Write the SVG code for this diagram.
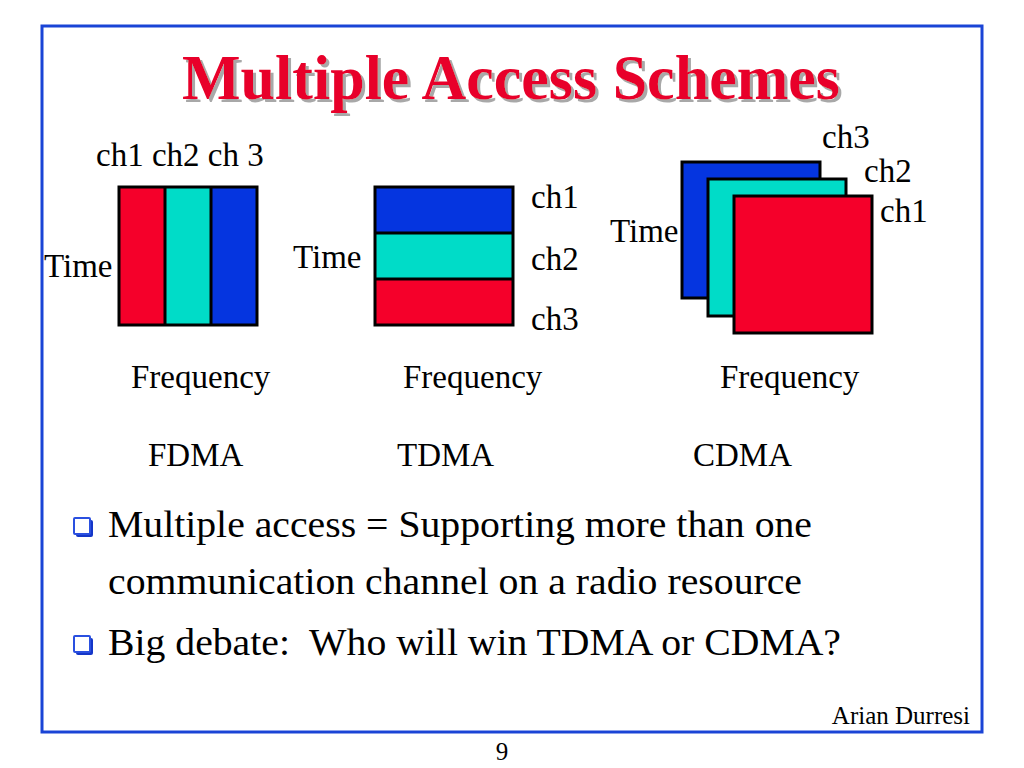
<svg xmlns="http://www.w3.org/2000/svg" width="1024" height="768" viewBox="0 0 1024 768">
<defs>
<filter id="shadow" x="-5%" y="-20%" width="110%" height="140%">
<feOffset in="SourceAlpha" dx="3" dy="3" result="off"/>
<feFlood flood-color="#a8a8a8"/>
<feComposite in2="off" operator="in" result="sh"/>
<feMerge><feMergeNode in="sh"/><feMergeNode in="SourceGraphic"/></feMerge>
</filter>
</defs>
<style>
text{font-family:"Liberation Serif","Times New Roman",serif;fill:#000}
.lbl{font-size:33px}
.bul{font-size:37px;white-space:pre}
.ttl{font-size:64px;font-weight:bold}
.blk{stroke:#000;stroke-width:3}
.red{fill:#f5002a}
.cyan{fill:#00dcc8}
.blue{fill:#0535e0}
.bsq{fill:#fff;stroke:#2a50e0;stroke-width:2}
.bsh{fill:#1436c8}
</style>
<rect width="1024" height="768" fill="#fff"/>
<rect x="42" y="26" width="940" height="706" fill="none" stroke="#1a44d6" stroke-width="3"/>
<g id="title">
<text class="ttl" x="182" y="99" textLength="658" lengthAdjust="spacingAndGlyphs" filter="url(#shadow)" style="fill:#e8002a">Multiple Access Schemes</text>
</g>
<g id="fdma">
<rect class="red" x="119" y="187" width="46" height="138"/>
<rect class="cyan" x="165" y="187" width="46" height="138"/>
<rect class="blue" x="211" y="187" width="46" height="138"/>
<rect x="119" y="187" width="138" height="138" fill="none" class="blk"/>
<line x1="165" y1="187" x2="165" y2="325" class="blk"/>
<line x1="211" y1="187" x2="211" y2="325" class="blk"/>
<text class="lbl" x="96" y="166">ch1 ch2 ch 3</text>
<text class="lbl" x="44" y="277">Time</text>
<text class="lbl" x="131" y="388">Frequency</text>
<text class="lbl" x="148" y="466">FDMA</text>
</g>
<g id="tdma">
<rect class="blue" x="375" y="187" width="138" height="46"/>
<rect class="cyan" x="375" y="233" width="138" height="46"/>
<rect class="red" x="375" y="279" width="138" height="46"/>
<rect x="375" y="187" width="138" height="138" fill="none" class="blk"/>
<line x1="375" y1="233" x2="513" y2="233" class="blk"/>
<line x1="375" y1="279" x2="513" y2="279" class="blk"/>
<text class="lbl" x="531" y="208">ch1</text>
<text class="lbl" x="531" y="270">ch2</text>
<text class="lbl" x="531" y="330">ch3</text>
<text class="lbl" x="293" y="268">Time</text>
<text class="lbl" x="403" y="388">Frequency</text>
<text class="lbl" x="397" y="466">TDMA</text>
</g>
<g id="cdma">
<rect class="blue blk" x="682" y="162" width="138" height="136"/>
<rect class="cyan blk" x="708" y="179" width="138" height="137"/>
<rect class="red blk" x="734" y="196" width="138" height="137"/>
<text class="lbl" x="822" y="148">ch3</text>
<text class="lbl" x="864" y="182">ch2</text>
<text class="lbl" x="880" y="222">ch1</text>
<text class="lbl" x="610" y="242">Time</text>
<text class="lbl" x="720" y="388">Frequency</text>
<text class="lbl" x="693" y="466">CDMA</text>
</g>
<g id="bullets">
<rect x="76" y="520" width="17" height="17" rx="2" class="bsh"/>
<rect x="74" y="518" width="16" height="16" rx="1" class="bsq"/>
<text class="bul" x="108" y="537" textLength="704" lengthAdjust="spacingAndGlyphs">Multiple access = Supporting more than one</text>
<text class="bul" x="108" y="594" textLength="694" lengthAdjust="spacingAndGlyphs">communication channel on a radio resource</text>
<rect x="76" y="638" width="17" height="17" rx="2" class="bsh"/>
<rect x="74" y="636" width="16" height="16" rx="1" class="bsq"/>
<text class="bul" x="108" y="655" xml:space="preserve" textLength="733" lengthAdjust="spacingAndGlyphs">Big debate:  Who will win TDMA or CDMA?</text>
</g>
<g id="footer">
<text x="970" y="724" text-anchor="end" style="font-size:25px">Arian Durresi</text>
<text x="502" y="760" text-anchor="middle" style="font-size:25px">9</text>
</g>
</svg>
